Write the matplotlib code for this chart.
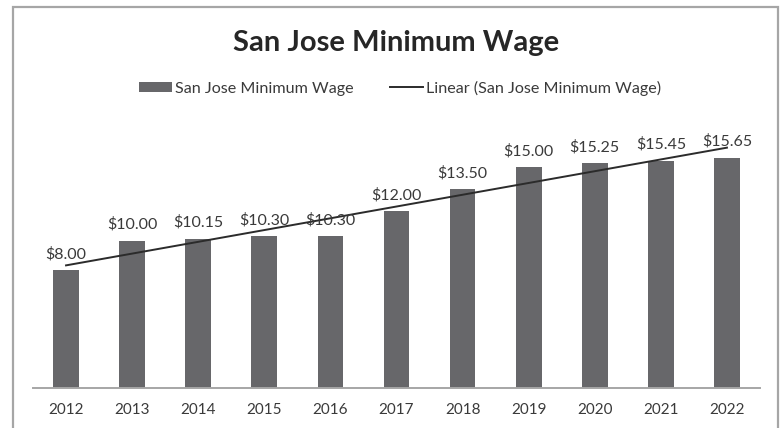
import numpy as np
import matplotlib
matplotlib.use("Agg")
import matplotlib.pyplot as plt
from matplotlib.patches import Rectangle
from matplotlib.lines import Line2D
from matplotlib.patches import Patch

plt.rcParams['font.family'] = ['Lato', 'DejaVu Sans']

years = ["2012", "2013", "2014", "2015", "2016", "2017", "2018", "2019", "2020", "2021", "2022"]
wages = [8.00, 10.00, 10.15, 10.30, 10.30, 12.00, 13.50, 15.00, 15.25, 15.45, 15.65]
series_name = "San Jose Minimum Wage"
trend_name = "Linear (San Jose Minimum Wage)"
title = "San Jose Minimum Wage"

W, H = 784, 428
fig = plt.figure(figsize=(W / 100, H / 100), dpi=100)

def fx(px):
    return px / W

def fy(py):
    return 1 - py / H

# chart border
fig.patches.append(Rectangle((fx(13), fy(440)), fx(778) - fx(13), fy(7) - fy(440),
                             transform=fig.transFigure, fill=False,
                             edgecolor='#a6a6a6', linewidth=1.6))

left, right, bottom, top = 33, 760, 388, 123
ax = fig.add_axes([fx(left), fy(bottom), fx(right) - fx(left), fy(top) - fy(bottom)])

x = np.arange(len(years))
bar_color = '#67676a'
ax.bar(x, wages, width=0.39, color=bar_color, zorder=2)

# linear trendline from data
coef = np.polyfit(x, wages, 1)
ax.plot(x, np.polyval(coef, x), color='#2b2b2b', linewidth=1.4, zorder=3)

for xi, v in zip(x, wages):
    ax.annotate(f"${v:.2f}", (xi, v), xytext=(0, 6.5), textcoords='offset points',
                ha='center', va='bottom', fontsize=11.5, color='#3a3a3a')

ax.set_xlim(-0.5, len(years) - 0.5)
ax.set_ylim(0, 18)
ax.set_xticks(x)
ax.set_xticklabels(years, fontsize=11, color='#3a3a3a')
ax.tick_params(axis='x', length=0, pad=11)
ax.set_yticks([])
for s in ['top', 'left', 'right']:
    ax.spines[s].set_visible(False)
ax.spines['bottom'].set_color('#a6a6a6')
ax.spines['bottom'].set_linewidth(1.4)

fig.text(fx(396), fy(43), title, ha='center', va='center', fontsize=21,
         fontweight='bold', color='#262626')

handles = [Patch(facecolor=bar_color, edgecolor='none', label=series_name),
           Line2D([0], [0], color='#2b2b2b', linewidth=1.4, label=trend_name)]
fig.legend(handles=handles, loc='center', bbox_to_anchor=(fx(400), fy(88)), ncol=2,
           frameon=False, fontsize=11.6, handlelength=2.05, handleheight=0.55,
           handletextpad=0.15, columnspacing=2.3, labelcolor='#3a3a3a')

fig.savefig("out.png", dpi=100)
